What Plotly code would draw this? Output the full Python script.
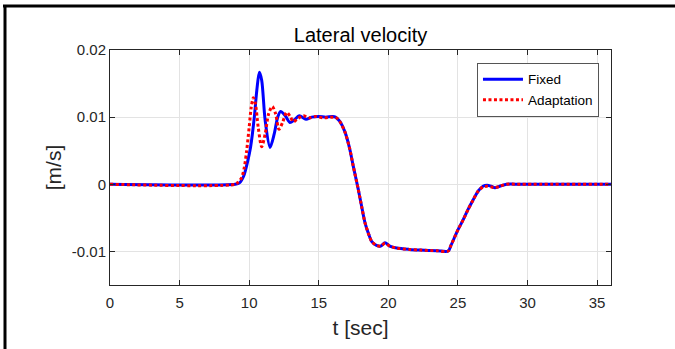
import plotly.graph_objects as go

# ---- data ----
t_fixed = [0, 9.0, 9.3, 9.6, 9.9, 10.1, 10.37, 10.55, 10.73, 10.9, 11.15, 11.5, 11.8, 12.05,
           12.26, 12.6, 12.93, 13.25, 13.6, 14.08, 14.5, 15.0, 15.5, 16.0, 16.2, 16.5, 16.88,
           17.2, 17.48, 17.84, 18.1, 18.32, 18.6, 18.8, 19.15, 19.45, 19.76, 20.1, 20.6, 21.5,
           22.3, 23.5, 24.3, 24.5, 25.0, 25.4, 25.74, 26.1, 26.46, 26.8, 27.1, 27.4, 27.66,
           28.0, 28.5, 29.5, 36]
v_fixed = [0, 0, 0.0002, 0.0012, 0.0035, 0.0055, 0.0100, 0.0140, 0.01667, 0.0155, 0.0095,
           0.00548, 0.0075, 0.0100, 0.01085, 0.0102, 0.0092, 0.0096, 0.0102, 0.0097, 0.0100,
           0.0101, 0.0100, 0.0101, 0.0100, 0.0094, 0.0078, 0.0055, 0.0027, -0.00075, -0.0035,
           -0.0057, -0.0075, -0.0085, -0.0091, -0.0092, -0.0087, -0.0092, -0.0095, -0.0097,
           -0.0098, -0.0099, -0.00995, -0.0091, -0.0068, -0.0052, -0.0037, -0.0023, -0.0010,
           -0.0003, -0.00015, -0.0003, -0.0005, -0.0003, 0, 0, 0]

t_adapt = [0, 9.0, 9.2, 9.46, 9.65, 9.82, 10.0, 10.15, 10.3, 10.45, 10.65, 10.9, 11.15, 11.4,
           11.66, 11.9, 12.14, 12.4, 12.69, 12.95, 13.17, 13.5, 13.9, 14.3, 14.8, 15.3, 16.0,
           16.2, 16.5, 16.88, 17.2, 17.48, 17.84, 18.1, 18.32, 18.6, 18.8, 19.15, 19.45, 19.76,
           20.1, 20.6, 21.5, 22.3, 23.5, 24.3, 24.5, 25.0, 25.4, 25.74, 26.1, 26.46, 26.8, 27.1,
           27.4, 27.66, 28.0, 28.5, 29.5, 36]
v_adapt = [0, 0, 0.0003, 0.0010, 0.0025, 0.0050, 0.0085, 0.0115, 0.0129, 0.0120, 0.0085,
           0.0056, 0.0075, 0.0105, 0.0116, 0.0105, 0.0082, 0.0092, 0.0107, 0.0101, 0.0093,
           0.0098, 0.0102, 0.0099, 0.0101, 0.0099, 0.0100, 0.0100, 0.0094, 0.0078, 0.0055,
           0.0027, -0.00075, -0.0035, -0.0057, -0.0075, -0.0085, -0.0091, -0.0092, -0.0088,
           -0.0092, -0.0095, -0.0097, -0.0098, -0.0099, -0.00995, -0.0091, -0.0068, -0.0052,
           -0.0037, -0.0023, -0.0010, -0.0004, -0.0003, -0.0004, -0.0005, -0.0003, 0, 0, 0]

x_ticks = [0, 5, 10, 15, 20, 25, 30, 35]
y_ticks = [-0.01, 0, 0.01, 0.02]
y_tick_text = ["-0.01", "0", "0.01", "0.02"]

FONT = "Liberation Sans, Arial, sans-serif"
AX = "#262626"

fig = go.Figure()
fig.add_trace(go.Scatter(x=t_fixed, y=v_fixed, mode="lines", name="Fixed",
                         line=dict(color="#0000ff", width=3, shape="spline", smoothing=0.8)))
fig.add_trace(go.Scatter(x=t_adapt, y=v_adapt, mode="lines", name="Adaptation",
                         line=dict(color="#ff0000", width=3, dash="3px,2.5px",
                                   shape="spline", smoothing=0.8)))

axis_common = dict(showline=True, linecolor=AX, linewidth=1, mirror="ticks",
                   ticks="inside", ticklen=5, tickcolor=AX, showgrid=True,
                   gridcolor="#e3e3e3", gridwidth=1, zeroline=False,
                   tickfont=dict(family=FONT, size=15, color=AX))

fig.update_layout(
    width=675, height=349,
    margin=dict(l=110, r=64, t=50, b=64),
    paper_bgcolor="white", plot_bgcolor="white",
    font=dict(family=FONT, color=AX),
    title=dict(text="Lateral velocity", x=0.5, xref="paper", xanchor="center",
               y=1 - 35 / 349, yref="container", yanchor="middle",
               font=dict(family=FONT, size=20, color="#000000")),
    xaxis=dict(range=[0, 36], tickvals=x_ticks, ticklabelstandoff=4,
               title=dict(text="t [sec]", font=dict(family=FONT, size=21, color=AX), standoff=10),
               **axis_common),
    yaxis=dict(range=[-0.015, 0.02], tickvals=y_ticks, ticktext=y_tick_text,
               title=dict(text="[m/s]", font=dict(family=FONT, size=21, color=AX), standoff=4),
               **axis_common),
    legend=dict(x=0.976, y=0.945, xanchor="right", yanchor="top",
                bgcolor="white", bordercolor="#555555", borderwidth=1,
                font=dict(family=FONT, size=13.5, color="#000000"),
                tracegroupgap=0, itemwidth=40),
    showlegend=True,
)

# outer frame lines (top and left) as in the reference
fig.add_shape(type="line", xref="paper", yref="paper", x0=(3 - 110) / 501, x1=(675 - 110) / 501,
              y0=(285 - 6) / 235, y1=(285 - 6) / 235, line=dict(color="black", width=3))
fig.add_shape(type="line", xref="paper", yref="paper", x0=(5 - 110) / 501, x1=(5 - 110) / 501,
              y0=(285 - 5) / 235, y1=(285 - 349) / 235, line=dict(color="black", width=3))

fig.write_html("out.html")
